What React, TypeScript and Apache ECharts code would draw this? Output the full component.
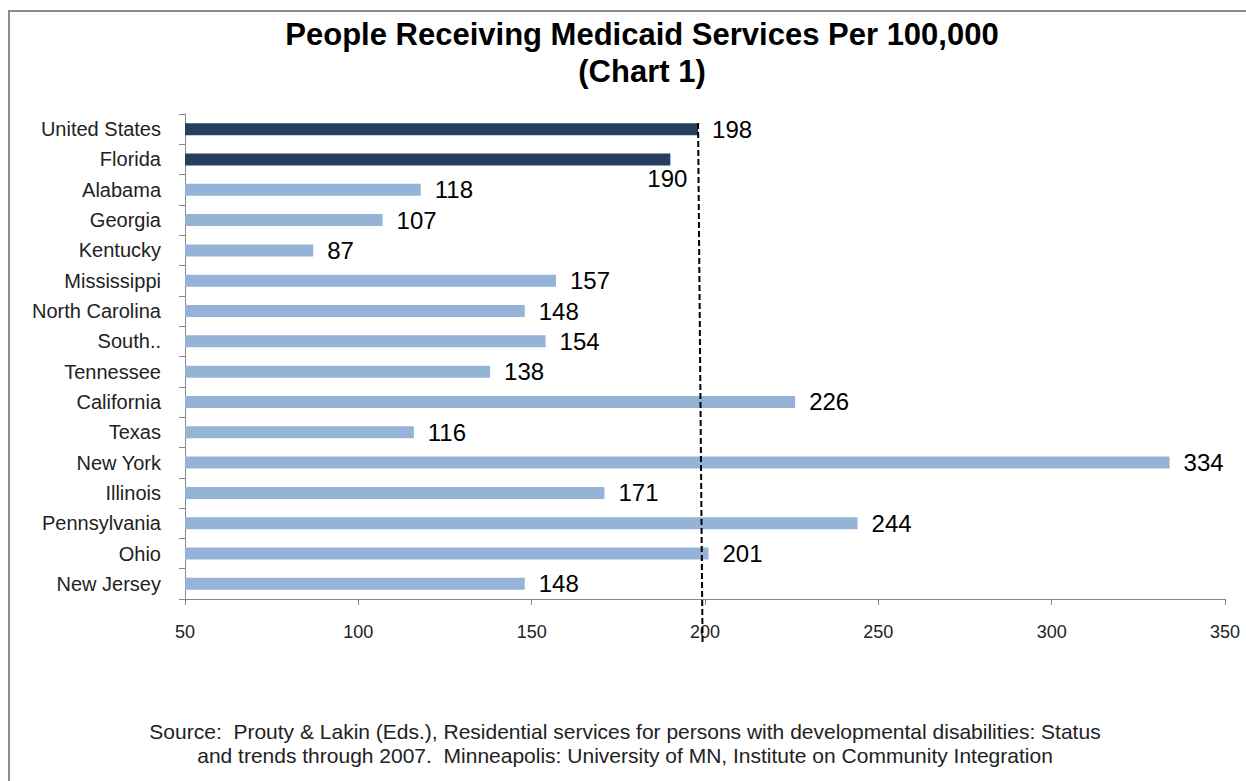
import React, { useEffect, useRef } from "react";
import * as echarts from "echarts";

const categories = [
  "United States", "Florida", "Alabama", "Georgia", "Kentucky", "Mississippi",
  "North Carolina", "South..", "Tennessee", "California", "Texas", "New York",
  "Illinois", "Pennsylvania", "Ohio", "New Jersey",
];
const values = [198, 190, 118, 107, 87, 157, 148, 154, 138, 226, 116, 334, 171, 244, 201, 148];
const highlighted = ["United States", "Florida"];
const xTicks = { min: 50, max: 350, interval: 50 };
const refLineValues = [198, 199.3];

const title = "People Receiving Medicaid Services Per 100,000\n(Chart 1)";
const source =
  "Source:  Prouty & Lakin (Eds.), Residential services for persons with developmental disabilities: Status\nand trends through 2007.  Minneapolis: University of MN, Institute on Community Integration";

const DARK = "#263f60";
const LIGHT = "#95b3d7";
const FONT = "'Liberation Sans', Arial, sans-serif";

export default function App() {
  const ref = useRef<HTMLDivElement>(null);
  useEffect(() => {
    const chart = echarts.init(ref.current!, null, { renderer: "svg" });
    const data = values.map((v, i) => {
      const isHi = highlighted.includes(categories[i]);
      const item: any = {
        value: v,
        itemStyle: { color: isHi ? DARK : LIGHT },
      };
      if (categories[i] === "Florida") {
        item.label = {
          position: ["100%", "100%"],
          align: "center",
          verticalAlign: "top",
          offset: [-3, 1],
        };
      }
      return item;
    });
    chart.setOption({
      animation: false,
      textStyle: { fontFamily: FONT },
      title: {
        text: title,
        left: 637,
        top: 11,
        textAlign: "center",
        textStyle: { fontSize: 31, fontWeight: "bold", color: "#000", lineHeight: 37, fontFamily: FONT },
      },
      grid: { left: 185, right: 21, top: 114, bottom: 182 },
      xAxis: {
        type: "value",
        min: xTicks.min,
        max: xTicks.max,
        interval: xTicks.interval,
        splitLine: { show: false },
        axisLine: { show: true, lineStyle: { color: "#888", width: 1 } },
        axisTick: { show: true, length: 6, lineStyle: { color: "#888" } },
        axisLabel: { fontSize: 18, color: "#222", margin: 24, fontFamily: FONT },
      },
      yAxis: {
        type: "category",
        data: categories,
        inverse: true,
        axisLine: { show: true, lineStyle: { color: "#888", width: 1 } },
        axisTick: { show: true, length: 6, lineStyle: { color: "#888" } },
        axisLabel: { fontSize: 20, color: "#222", margin: 24, fontFamily: FONT },
      },
      series: [
        {
          type: "bar",
          data,
          barWidth: 12,
          label: {
            show: true,
            position: "right",
            distance: 14,
            fontSize: 24,
            color: "#000",
            fontFamily: FONT,
          },
        },
      ],
      graphic: [
        {
          id: "frame",
          type: "rect",
          shape: { x: 9, y: 11, width: 1260, height: 800 },
          style: { fill: "none", stroke: "#8c8c8c", lineWidth: 2 },
          silent: true,
        },
        {
          id: "source",
          type: "text",
          x: 625,
          y: 719,
          style: {
            text: source,
            fontSize: 21,
            fill: "#222",
            align: "center",
            lineHeight: 24,
            fontFamily: FONT,
          },
        },
      ],
    });
    const p1 = chart.convertToPixel({ gridIndex: 0 }, [refLineValues[0], 0]);
    const p2 = chart.convertToPixel({ gridIndex: 0 }, [refLineValues[1], 0]);
    chart.setOption({
      graphic: [
        {
          id: "refline",
          type: "line",
          shape: { x1: p1[0], y1: 123, x2: p2[0], y2: 645 },
          style: { stroke: "#000", lineWidth: 2, lineDash: [6, 3] },
          silent: true,
          z: 10,
        },
      ],
    });
    return () => chart.dispose();
  }, []);
  return (
    <div
      ref={ref}
      style={{ position: "absolute", left: 0, top: 0, width: 1246, height: 781, background: "#fff" }}
    />
  );
}
